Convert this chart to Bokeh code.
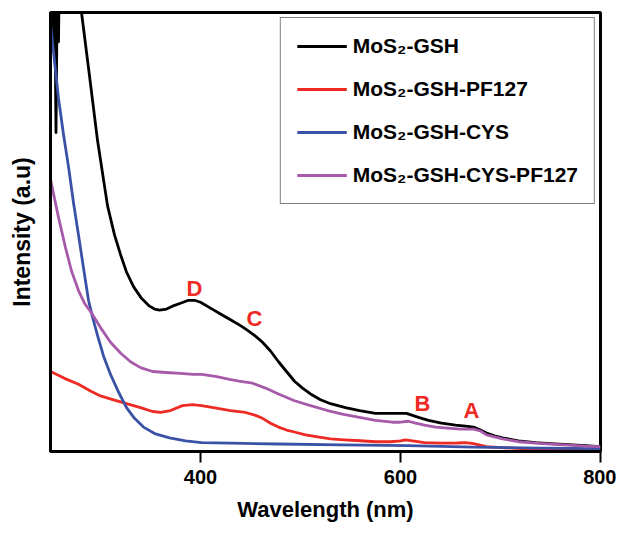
from bokeh.plotting import figure
from bokeh.models import Range1d, FixedTicker, Legend, LegendItem
from bokeh.core.properties import value
from bokeh.embed import file_html
from bokeh.resources import INLINE

# ---- data (intensity in arbitrary units) ----
black_wl = [252, 253, 254, 255.5, 257, 258, 259, 270, 281, 289, 297, 307, 314, 320, 326, 333, 341,
            349, 354, 359, 366, 372, 380, 388, 394, 400, 410, 420, 430, 440, 446, 454, 462, 470,
            478, 486, 494, 502, 510, 520, 530, 545, 559, 575, 590, 600, 606, 612, 618, 628, 641,
            655, 665, 673, 680, 686, 694, 702, 718, 735, 750, 768, 785, 800]
black_int = [5.0, 4.2, 5.0, 3.27, 5.0, 4.2, 5.0, 6.0, 4.50, 3.85, 3.19, 2.52, 2.22, 2.02, 1.84, 1.69, 1.57,
             1.49, 1.46, 1.45, 1.46, 1.49, 1.52, 1.55, 1.55, 1.53, 1.47, 1.41, 1.35, 1.29, 1.25, 1.19, 1.12, 1.03,
             0.92, 0.82, 0.72, 0.65, 0.59, 0.53, 0.49, 0.45, 0.42, 0.39, 0.39, 0.39, 0.39, 0.37, 0.35, 0.32, 0.29,
             0.27, 0.26, 0.25, 0.22, 0.19, 0.16, 0.14, 0.11, 0.09, 0.08, 0.07, 0.06, 0.05]

red_wl = [250, 264, 278, 290, 300, 313, 326, 340, 352, 360, 370, 382, 392, 401, 413, 430, 445, 455,
          462, 470, 478, 486, 494, 505, 517, 530, 543, 560, 575, 590, 600, 605, 612, 624, 640, 657,
          665, 673, 686, 700, 720, 750, 775, 800]
red_int = [0.82, 0.75, 0.69, 0.62, 0.57, 0.53, 0.49, 0.45, 0.41, 0.40, 0.42, 0.47, 0.48, 0.47, 0.45, 0.42,
           0.40, 0.37, 0.34, 0.29, 0.25, 0.22, 0.20, 0.17, 0.15, 0.13, 0.12, 0.11, 0.10, 0.10, 0.11, 0.12,
           0.11, 0.09, 0.085, 0.087, 0.09, 0.08, 0.05, 0.04, 0.03, 0.015, 0.01, 0.005]

blue_wl = [250, 254, 258, 263, 268, 273, 278, 283, 288, 292, 297, 303, 310, 318, 326, 334, 343, 355,
           369, 385, 401, 430, 478, 540, 608, 673, 740, 800]
blue_int = [4.39, 4.0, 3.62, 3.25, 2.92, 2.55, 2.22, 1.88, 1.55, 1.38, 1.19, 0.98, 0.79, 0.61, 0.45, 0.34,
            0.25, 0.18, 0.14, 0.11, 0.09, 0.085, 0.077, 0.068, 0.06, 0.045, 0.035, 0.03]

purple_wl = [250, 258, 265, 271, 278, 284, 291, 300, 310, 320, 330, 340, 352, 365, 380, 393, 401, 415,
             429, 440, 452, 465, 478, 494, 510, 527, 543, 559, 575, 592, 600, 608, 615, 624, 635, 647,
             660, 673, 680, 686, 694, 702, 718, 735, 750, 768, 785, 800]
purple_int = [2.79, 2.40, 2.09, 1.85, 1.65, 1.52, 1.42, 1.27, 1.12, 1.01, 0.92, 0.86, 0.82, 0.81, 0.80, 0.79,
              0.79, 0.77, 0.74, 0.72, 0.70, 0.65, 0.59, 0.52, 0.47, 0.42, 0.38, 0.35, 0.32, 0.30, 0.30, 0.31,
              0.29, 0.27, 0.25, 0.24, 0.23, 0.23, 0.21, 0.17, 0.15, 0.13, 0.10, 0.085, 0.075, 0.065, 0.055, 0.05]

series_names = ["MoS₂-GSH", "MoS₂-GSH-PF127", "MoS₂-GSH-CYS", "MoS₂-GSH-CYS-PF127"]
series_colors = ["#000000", "#ee2a24", "#3a52a6", "#a85aaa"]

peak_names = ["D", "C", "B", "A"]
peak_wl = [394, 454, 622, 671]
peak_int = [1.67, 1.36, 0.49, 0.42]

x_ticks = [400, 600, 800]

FONT = "Liberation Sans"

p = figure(width=616, height=524, output_backend="svg", toolbar_location=None,
           x_range=Range1d(250, 800), y_range=Range1d(0, 4.5),
           min_border_left=50, min_border_right=16, min_border_top=12, min_border_bottom=68)

p.xgrid.visible = False
p.ygrid.visible = False
p.background_fill_color = "white"
p.border_fill_color = "white"
p.outline_line_color = "black"
p.outline_line_width = 3
p.outline_line_alpha = 1

xa = p.xaxis[0]
xa.ticker = FixedTicker(ticks=x_ticks)
xa.minor_tick_line_color = None
xa.major_tick_in = 0
xa.major_tick_out = 11
xa.major_tick_line_width = 2
xa.axis_line_width = 3
xa.major_label_standoff = 7
xa.major_label_text_font = FONT
xa.major_label_text_font_style = "bold"
xa.major_label_text_font_size = "20px"
xa.major_label_text_color = "black"
xa.axis_label = "Wavelength (nm)"
xa.axis_label_text_font = FONT
xa.axis_label_text_font_style = "bold"
xa.axis_label_text_font_size = "22px"
xa.axis_label_text_color = "black"
xa.axis_label_standoff = 10

ya = p.yaxis[0]
ya.ticker = FixedTicker(ticks=[])
ya.minor_tick_line_color = None
ya.major_tick_out = 0
ya.major_tick_in = 0
ya.major_label_standoff = 0
ya.axis_line_width = 3
ya.axis_label = "Intensity (a.u)"
ya.axis_label_text_font = FONT
ya.axis_label_text_font_style = "bold"
ya.axis_label_text_font_size = "23px"
ya.axis_label_text_color = "black"
ya.axis_label_standoff = 16

data = [(black_wl, black_int), (red_wl, red_int), (blue_wl, blue_int), (purple_wl, purple_int)]
renderers = []
for (wl, inten), c in zip(data, series_colors):
    r = p.line(wl, inten, line_color=c, line_width=2.8, line_join="round")
    renderers.append(r)

p.text(x=peak_wl, y=peak_int, text=peak_names, text_color="#ee2a24",
       text_font=value(FONT), text_font_style="bold", text_font_size="22px",
       text_align="center", text_baseline="middle")

legend = Legend(items=[LegendItem(label=n, renderers=[r]) for n, r in zip(series_names, renderers)],
                location="top_right")
legend.margin = 5
legend.padding = 16
legend.spacing = 19
legend.glyph_width = 50
legend.glyph_height = 20
legend.label_standoff = 6
legend.label_text_font = FONT
legend.label_text_font_style = "bold"
legend.label_text_font_size = "21px"
legend.label_text_color = "black"
legend.border_line_color = "black"
legend.border_line_width = 1.5
legend.background_fill_alpha = 1
p.add_layout(legend)

open("out.html", "w").write(file_html(p, INLINE))
